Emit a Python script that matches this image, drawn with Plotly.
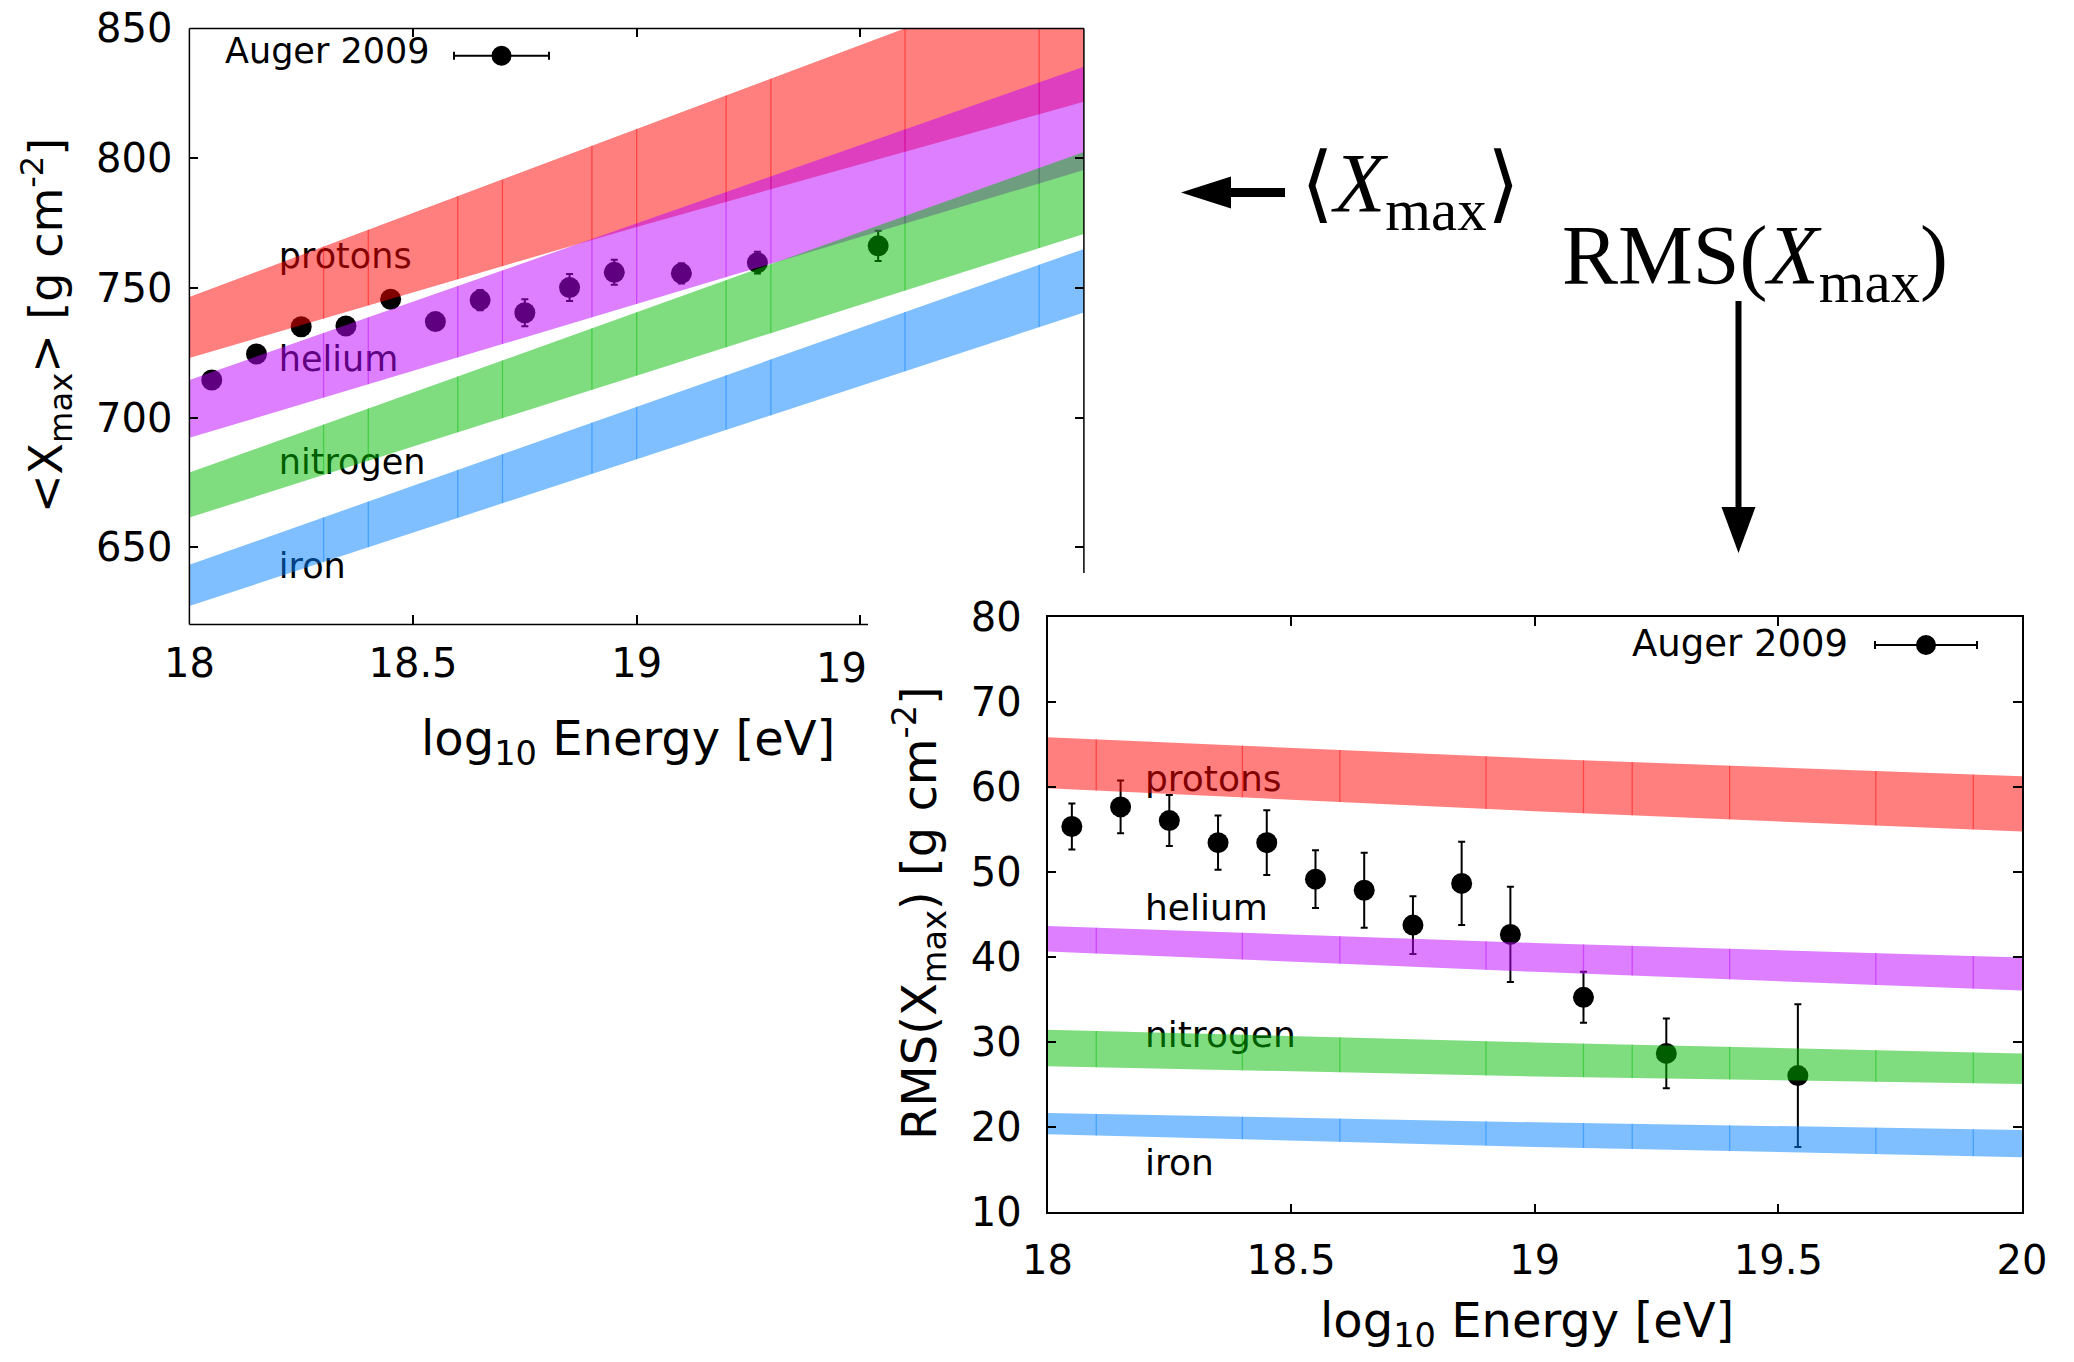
import numpy as np
import plotly.graph_objects as go

W, H = 2074, 1362

# ---------------- Auger 2009 measurements ----------------
energy = [18.05, 18.15, 18.25, 18.35, 18.45, 18.55, 18.65, 18.75, 18.85, 18.95, 19.10, 19.27, 19.54]
xmax_mean = [714.5, 724.5, 735.0, 735.3, 745.6, 737.0, 745.3, 740.4, 750.1, 756.0, 755.6, 759.7, 766.2]
xmax_mean_err = [3.0, 3.0, 3.0, 3.0, 3.0, 3.0, 3.9, 5.2, 5.2, 4.8, 3.9, 4.2, 5.8]
xmax_rms = [55.4, 57.7, 56.1, 53.5, 53.5, 49.2, 47.9, 43.8, 48.7, 42.7, 35.3, 28.7, 26.1]
xmax_rms_err = [2.7, 3.1, 3.0, 3.2, 3.8, 3.4, 4.4, 3.4, 4.9, 5.6, 3.0, 4.1, 8.4]

# ---------------- simulation bands (lower / upper edge) ----------------
band_energy = [18.0, 19.0, 20.0]
species = ["protons", "helium", "nitrogen", "iron"]

protons_mean_lo = [723.0, 773.5, 821.7]
protons_mean_hi = [746.5, 811.2, 875.9]
helium_mean_lo = [692.2, 743.8, 795.4]
helium_mean_hi = [714.5, 774.8, 835.2]
nitrogen_mean_lo = [661.5, 716.2, 770.8]
nitrogen_mean_hi = [678.8, 740.6, 802.4]
iron_mean_lo = [627.4, 684.0, 740.5]
iron_mean_hi = [643.3, 704.2, 765.0]

protons_rms_lo = [59.9, 57.2, 54.8]
protons_rms_hi = [65.9, 63.4, 61.3]
helium_rms_lo = [40.7, 38.3, 36.1]
helium_rms_hi = [43.7, 41.7, 40.0]
nitrogen_rms_lo = [27.2, 26.0, 25.1]
nitrogen_rms_hi = [31.5, 30.0, 28.7]
iron_rms_lo = [19.2, 17.7, 16.5]
iron_rms_hi = [21.7, 20.6, 19.7]

# joints between the filled segments of each band
seams_mean = [18.3, 18.4, 18.6, 18.7, 18.9, 19.0, 19.2, 19.3, 19.6, 19.9]
seams_rms = [18.1, 18.4, 18.6, 18.9, 19.1, 19.2, 19.4, 19.7, 19.9]

# species label positions (x, y)
label_x = 18.2
label_y_mean = [761.1, 721.3, 681.6, 641.6]
label_y_rms = [60.6, 45.5, 30.5, 15.5]

band_rgb = [(255, 0, 0), (187, 0, 255), (0, 187, 0), (0, 127, 255)]

mean_bands = [(protons_mean_lo, protons_mean_hi), (helium_mean_lo, helium_mean_hi),
              (nitrogen_mean_lo, nitrogen_mean_hi), (iron_mean_lo, iron_mean_hi)]
rms_bands = [(protons_rms_lo, protons_rms_hi), (helium_rms_lo, helium_rms_hi),
             (nitrogen_rms_lo, nitrogen_rms_hi), (iron_rms_lo, iron_rms_hi)]

SANS = "DejaVu Sans"
SERIF = "Liberation Serif"


def px(x):
    return x / W


def py(y):
    return 1 - y / H


fig = go.Figure()


def add_panel(xa, ya, yvals, yerr, bands, seams, label_y, label_size):
    # data points (drawn first so the translucent bands tint them)
    fig.add_trace(go.Scatter(
        x=energy, y=yvals, mode="markers", xaxis=xa, yaxis=ya,
        marker=dict(symbol="circle", size=21, color="black"),
        error_y=dict(type="data", array=yerr, visible=True, color="black",
                     thickness=2, width=3.5),
        showlegend=False, hoverinfo="skip", cliponaxis=False))
    # species labels
    fig.add_trace(go.Scatter(
        x=[label_x] * len(species), y=label_y, mode="text", text=species,
        textposition="middle right", xaxis=xa, yaxis=ya,
        textfont=dict(family=SANS, size=label_size, color="black"),
        showlegend=False, hoverinfo="skip"))
    # translucent bands
    for (lo, hi), (r, g, b) in zip(bands, band_rgb):
        fig.add_trace(go.Scatter(
            x=band_energy + band_energy[::-1], y=hi + lo[::-1],
            fill="toself", fillcolor=f"rgba({r},{g},{b},0.5)",
            line=dict(width=0), mode="lines", xaxis=xa, yaxis=ya,
            showlegend=False, hoverinfo="skip"))
    # segment joints inside each band
    for (lo, hi), (r, g, b) in zip(bands, band_rgb):
        sx, sy = [], []
        for s in seams:
            sx += [s, s, None]
            sy += [float(np.interp(s, band_energy, lo)), float(np.interp(s, band_energy, hi)), None]
        fig.add_trace(go.Scatter(
            x=sx, y=sy, mode="lines", xaxis=xa, yaxis=ya,
            line=dict(color=f"rgba({r},{g},{b},0.45)", width=1.3),
            showlegend=False, hoverinfo="skip"))


add_panel("x", "y", xmax_mean, xmax_mean_err, mean_bands, seams_mean, label_y_mean, 35)
add_panel("x2", "y2", xmax_rms, xmax_rms_err, rms_bands, seams_rms, label_y_rms, 36)

tickfont = dict(family=SANS, size=40, color="black")

# panel geometry (pixels)
T_L, T_R, T_T, T_B = 189.4, 1083.9, 28.4, 624.4
B_L, B_R, B_T, B_B = 1047.5, 2022.0, 617.4, 1212.4
CUT_X, CUT_Y = 868.0, 573.0

axis_common = dict(ticks="inside", ticklen=9, tickwidth=1.5, tickcolor="black",
                   showgrid=False, zeroline=False, tickfont=tickfont, mirror="ticks",
                   automargin=False)

fig.update_layout(
    template="none",
    width=W, height=H, autosize=False,
    margin=dict(l=0, r=0, t=0, b=0, pad=0, autoexpand=False),
    paper_bgcolor="white", plot_bgcolor="white",
    showlegend=False,
    xaxis=dict(domain=[px(T_L), px(T_R)], range=[18, 20], anchor="y",
               tickvals=[18, 18.5, 19, 19.5], ticktext=["18", "18.5", "19", ""],
               showline=False, ticklabelstandoff=12, **axis_common),
    yaxis=dict(domain=[py(T_B), py(T_T)], range=[620.3, 850], anchor="x",
               tickvals=[650, 700, 750, 800, 850],
               showline=False, ticklabelstandoff=16, **axis_common),
    xaxis2=dict(domain=[px(B_L), px(B_R)], range=[18, 20], anchor="y2",
                tickvals=[18, 18.5, 19, 19.5, 20],
                showline=True, linecolor="black", linewidth=1.5,
                ticklabelstandoff=12, **axis_common),
    yaxis2=dict(domain=[py(B_B), py(B_T)], range=[10, 80], anchor="x2",
                tickvals=[10, 20, 30, 40, 50, 60, 70, 80],
                showline=True, linecolor="black", linewidth=1.5,
                ticklabelstandoff=16, **axis_common),
)

shapes = []
frame = dict(type="line", xref="paper", yref="paper", line=dict(color="black", width=1.5))
# upper panel frame, partly hidden behind the lower panel
shapes.append(dict(frame, x0=px(T_L), x1=px(T_L), y0=py(T_T), y1=py(T_B)))
shapes.append(dict(frame, x0=px(T_L), x1=px(T_R), y0=py(T_T), y1=py(T_T)))
shapes.append(dict(frame, x0=px(T_R), x1=px(T_R), y0=py(T_T), y1=py(CUT_Y)))
shapes.append(dict(frame, x0=px(T_L), x1=px(CUT_X), y0=py(T_B), y1=py(T_B)))


def key_sample(x0, x1, y):
    out = []
    ln = dict(type="line", xref="paper", yref="paper", line=dict(color="black", width=2))
    out.append(dict(ln, x0=px(x0), x1=px(x1), y0=py(y), y1=py(y)))
    out.append(dict(ln, x0=px(x0), x1=px(x0), y0=py(y - 4), y1=py(y + 4)))
    out.append(dict(ln, x0=px(x1), x1=px(x1), y0=py(y - 4), y1=py(y + 4)))
    xc = (x0 + x1) / 2
    out.append(dict(type="circle", xref="paper", yref="paper",
                    x0=px(xc - 10), x1=px(xc + 10), y0=py(y + 10), y1=py(y - 10),
                    fillcolor="black", line=dict(width=0)))
    return out


shapes += key_sample(454, 549, 55.7)
shapes += key_sample(1875, 1977, 645)

# arrows pointing at the two panels
shapes.append(dict(type="line", xref="paper", yref="paper",
                   x0=px(1226), x1=px(1285), y0=py(192.5), y1=py(192.5),
                   line=dict(color="black", width=9)))
shapes.append(dict(type="path", xref="paper", yref="paper",
                   path=f"M {px(1181)},{py(192.5)} L {px(1231)},{py(176.5)} L {px(1231)},{py(208.5)} Z",
                   fillcolor="black", line=dict(width=0)))
shapes.append(dict(type="line", xref="paper", yref="paper",
                   x0=px(1738.5), x1=px(1738.5), y0=py(301), y1=py(512),
                   line=dict(color="black", width=6)))
shapes.append(dict(type="path", xref="paper", yref="paper",
                   path=f"M {px(1738.5)},{py(553)} L {px(1721.5)},{py(507)} L {px(1755.5)},{py(507)} Z",
                   fillcolor="black", line=dict(width=0)))
fig.update_layout(shapes=shapes)

ann = []


def text(x, y, s, size, family=SANS, xanchor="center", angle=0):
    ann.append(dict(x=px(x), y=py(y), xref="paper", yref="paper", text=s, showarrow=False,
                    xanchor=xanchor, yanchor="middle", textangle=angle,
                    font=dict(family=family, size=size, color="black")))


title_x = "log<sub>10</sub> Energy [eV]"
text(628, 741, title_x, 48)
text(1527, 1323, title_x, 48)
text(47, 326, "&lt;X<sub>max</sub>&gt; [g cm<sup>-2</sup>]", 46, angle=-90)
text(919, 913, "RMS(X<sub>max</sub>) [g cm<sup>-2</sup>]", 48, angle=-90)
text(431, 51, "Auger 2009", 35, xanchor="right")
text(1850, 643, "Auger 2009", 37, xanchor="right")
text(869, 668, "19", 40, xanchor="right")
text(1299, 190, "⟨<i>X</i><sub>max</sub>⟩", 84, family=SERIF, xanchor="left")
text(1560, 262, "RMS(<i>X</i><sub>max</sub>)", 84, family=SERIF, xanchor="left")
fig.update_layout(annotations=ann)

fig.write_html("out.html")
